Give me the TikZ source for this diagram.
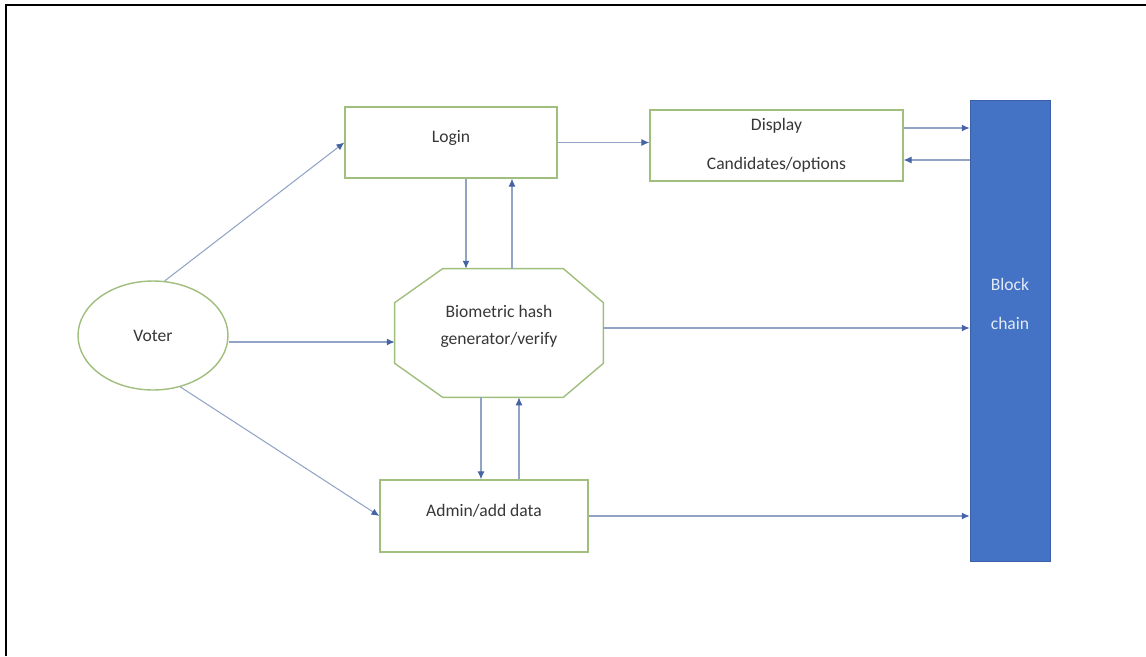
\documentclass[tikz,border=0pt]{standalone}
\usepackage{fontspec}
\setmainfont{Carlito}
\usepackage{tikz}
\usetikzlibrary{arrows.meta, positioning, calc, shapes.geometric}

\definecolor{boxgreen}{RGB}{160,190,125}
\definecolor{linkblue}{RGB}{145,164,198}
\definecolor{tipblue}{RGB}{70,100,165}
\definecolor{chainblue}{RGB}{68,114,196}
\definecolor{txtgray}{RGB}{55,55,55}

\begin{document}
\begin{tikzpicture}[
    x=0.02cm, y=-0.02cm,
    box/.style={draw=boxgreen, line width=0.8pt, fill=white, text=txtgray, font=\fontsize{10}{12}\selectfont},
    raised/.style={text height=6pt, text depth=6pt},
    voterbox/.style={box, ellipse, minimum width=3cm, minimum height=2.18cm},
    chainbox/.style={fill=chainblue, draw=chainblue!85!black, line width=0.4pt, minimum width=1.6cm, minimum height=9.22cm},
    arrow/.style={draw=linkblue, line width=0.6pt, -{Latex[length=4.5pt, width=4pt, color=tipblue]}}
]
\useasboundingbox (0,0) rectangle (1146,656);

% frame
\draw[line width=1.6pt] (6,656) -- (6,5) -- (1146,5);

\node[box, raised, minimum width=4.24cm, minimum height=1.42cm] (login) at (451,142.5) {Login};
\node[box, minimum width=5.06cm, minimum height=1.42cm, align=center] (display) at (776.5,145.5) {Display\\[10pt]Candidates/options};
\node[chainbox] (chain) at (1010,330.5) {};
\node[text=white!85!chainblue, align=center, font=\fontsize{10}{12}\selectfont] (chaintxt) at (1010,304) {Block\\[10pt]chain};
\node[voterbox] (voter) at (153,335.5) {Voter};
\node[minimum width=4.16cm, minimum height=2.56cm, align=center, text=txtgray, font=\fontsize{10}{12}\selectfont] (bio) at (499,333) {};
\node[text=txtgray, align=center, font=\fontsize{10}{12}\selectfont] (biotxt) at (499,326.5) {Biometric hash\\[3pt]generator/verify};
\node[box, raised, minimum width=4.16cm, minimum height=1.44cm] (admin) at (484,516) {Admin/add data};

% octagon round the hash node
\draw[draw=boxgreen, line width=0.8pt]
    ($(bio.north west)+(48,0)$) -- ($(bio.north east)+(-40,0)$)
    -- ($(bio.north east)+(0,34)$) -- ($(bio.south east)+(0,-34)$)
    -- ($(bio.south east)+(-40,0)$) -- ($(bio.south west)+(48,0)$)
    -- ($(bio.south west)+(0,-34)$) -- ($(bio.north west)+(0,34)$) -- cycle;

% edges from voter
\draw[arrow] (voter.78) -- (login.west);
\draw[arrow] ([yshift=-0.13cm]voter.east) -- ([yshift=-0.13cm]voter.east -| bio.west);
\draw[arrow] (voter.-62) -- (admin.west);

% edges to the chain
\draw[arrow] (login.east) -- (login.east -| display.west);
\draw[arrow] ([yshift=0.35cm]display.east) -- ([yshift=0.35cm]display.east -| chain.west);
\draw[arrow] ([yshift=-0.29cm]display.east -| chain.west) -- ([yshift=-0.29cm]display.east);
\draw[arrow] ([yshift=0.1cm]bio.east) -- ([yshift=0.1cm]bio.east -| chain.west);
\draw[arrow] (admin.east) -- (admin.east -| chain.west);

% edges up and down
\draw[arrow] ([xshift=0.3cm]login.south) -- ([xshift=0.3cm]login.south |- bio.north);
\draw[arrow] ([xshift=1.22cm]login.south |- bio.north) -- ([xshift=1.22cm]login.south);
\draw[arrow] ([xshift=-0.06cm]admin.north |- bio.south) -- ([xshift=-0.06cm]admin.north);
\draw[arrow] ([xshift=0.7cm]admin.north) -- ([xshift=0.7cm]admin.north |- bio.south);

\end{tikzpicture}
\end{document}
